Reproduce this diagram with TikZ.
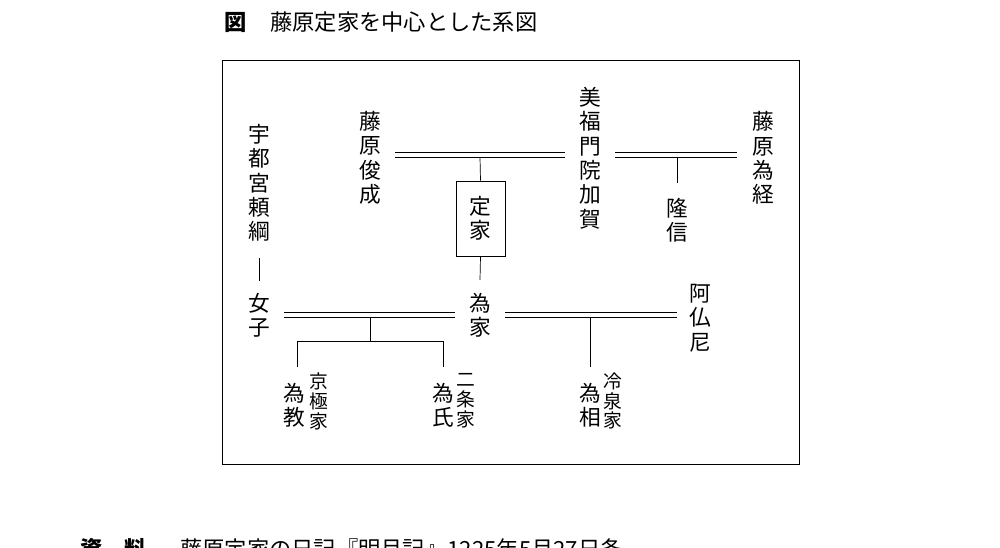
\documentclass[tikz,border=0pt]{standalone}
\usepackage{fontspec}
\newfontfamily\cjk{Noto Sans CJK JP}
\begin{document}
\begin{tikzpicture}[x=0.3mm,y=-0.3mm,
  v/.style={inner sep=0pt,align=center,font={\cjk\fontsize{18.5}{20.8}\selectfont}},
  vs/.style={inner sep=0pt,align=center,font={\cjk\fontsize{16}{17}\selectfont}},
  ln/.style={line width=0.6pt}]
\useasboundingbox (0,0) rectangle (1000,548);
\node[inner sep=0pt,anchor=west,font={\cjk\bfseries\fontsize{19}{20}\selectfont}] (tz) at (224,22) {図};
\node[inner sep=0pt,anchor=west,font={\cjk\fontsize{19}{20}\selectfont}] (tt) at (270,22) {藤原定家を中心とした系図};
\node[inner sep=0pt,anchor=north west,font={\cjk\bfseries\fontsize{19}{20}\selectfont}] (bs) at (80,538) {資　料};
\node[inner sep=0pt,anchor=north west,font={\cjk\fontsize{19}{20}\selectfont}] (bt) at (180,538) {藤原定家の日記『明月記』1225年5月27日条};
\draw[ln] (222,60) rectangle (799,464);
\node[v] (utsu) at (259,183) {宇\\都\\宮\\頼\\綱};
\node[v] (jo) at (259,315) {女\\子};
\node[v] (shun) at (370,158) {藤\\原\\俊\\成};
\node[v] (kaga) at (590,158) {美\\福\\門\\院\\加\\賀};
\node[v] (tamet) at (763,158) {藤\\原\\為\\経};
\node[v] (taka) at (677,220) {隆\\信};
\node[v,draw,line width=0.6pt,minimum width=14.7mm,minimum height=22.5mm] (tei) at (480.5,218.5) {定\\家};
\node[v] (tameie) at (480,315) {為\\家};
\node[v] (abu) at (700,318) {阿\\仏\\尼};
\node[v] (tnori) at (294,405) {為\\教};
\node[vs] (kyo) at (319,401) {京\\極\\家};
\node[v] (tuji) at (443,405) {為\\氏};
\node[vs] (nijo) at (466,401) {二\\条\\家};
\node[v] (tsuke) at (590,405) {為\\相};
\node[vs] (rei) at (613,401) {冷\\泉\\家};
\foreach \y in {152,157}{
  \draw[ln] (395,\y) -- (565,\y);
  \draw[ln] (615,\y) -- (737,\y);}
\foreach \y in {312,317}{
  \draw[ln] (284,\y) -- (455,\y);
  \draw[ln] (505,\y) -- (677,\y);}
\draw[ln] (480,157) -- (tei.north);
\draw[ln] (tei.south) -- (480,280);
\draw[ln] (677,157) -- (677,183);
\draw[ln] (259,258) -- (259,281);
\draw[ln] (370,317) -- (370,341);
\draw[ln] (297,367) -- (297,341) -- (443,341) -- (443,367);
\draw[ln] (590,317) -- (590,367);
\end{tikzpicture}
\end{document}
